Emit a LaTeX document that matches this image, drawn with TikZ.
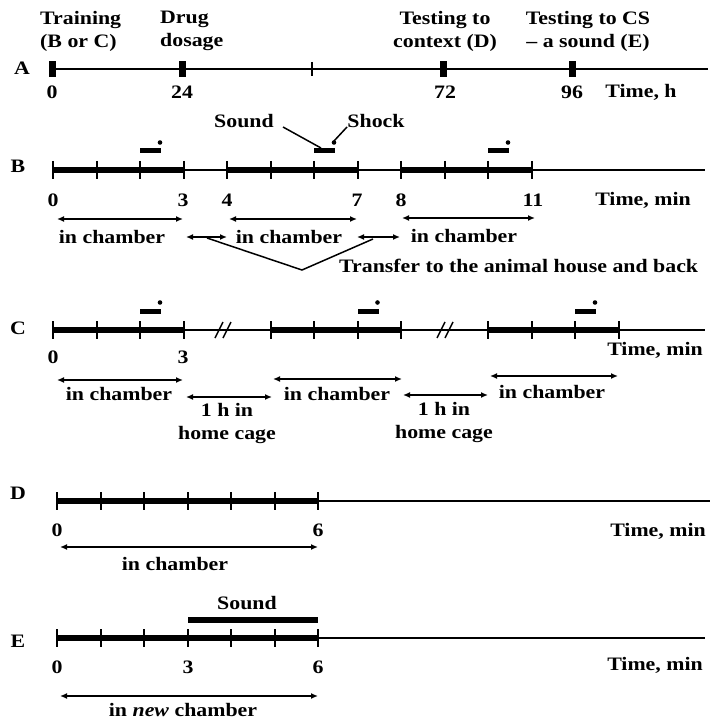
\documentclass[tikz,border=0pt]{standalone}
\usepackage{fontspec}
\setmainfont{Liberation Serif}[FakeStretch=1.15]
\usetikzlibrary{arrows.meta}
\begin{document}
\begin{tikzpicture}[x=1pt,y=-1pt,
  lbl/.style={font=\fontsize{19}{23}\selectfont\bfseries, inner sep=0pt},
  thinln/.style={line width=1.8pt},
  thickln/.style={line width=5.5pt},
  tk/.style={line width=2pt},
  dbl/.style={line width=2.4pt,{Latex[length=7pt,width=6pt]}-{Latex[length=7pt,width=6pt]}},
  conn/.style={line width=1.5pt}
]
\fill[white] (0,0) rectangle (712,722);
\useasboundingbox (0,0) rectangle (712,722);

% ---------------- Row A ----------------
\node[lbl] (lA) at (22,68) {A};
\coordinate (aS) at (50,69);
\coordinate (aE) at (708,69);
\draw[thinln] (aS) -- (aE);
\foreach \x in {52,182,443,572} \fill (\x-3.5,61) rectangle (\x+3.5,77);
\draw[tk] (312,62) -- (312,76);
\node[lbl] (a0) at (52,92) {0};
\node[lbl] (a24) at (182,92) {24};
\node[lbl] (a72) at (445,92) {72};
\node[lbl] (a96) at (572,92) {96};
\node[lbl] (aTime) at (641,92) {Time, h};
\node[lbl,align=left,anchor=west] (tTrain) at (40,31) {Training\\(B or C)};
\node[lbl,align=left,anchor=west] (tDrug) at (160,31) {Drug\\dosage};
\node[lbl,align=center] (tCtx) at (445,31) {Testing to\\context (D)};
\node[lbl,align=center] (tCS) at (588,31) {Testing to CS\\– a sound (E)};

% ---------------- Row B ----------------
\node[lbl] (lB) at (18,166) {B};
\draw[thinln] (53,170) -- (705,170);
\foreach \a in {0,4,8} \draw[thickln] ({53+43.5*\a},170) -- ({53+43.5*(\a+3)},170);
\foreach \t in {0,...,11} \draw[tk] ({53+43.5*\t},161) -- ++(0,18);
\foreach \a in {2,6,10} {
  \fill ({53+43.5*\a},148.5) rectangle ++(21,5);
  \fill ({53+43.5*\a+20},142.5) circle (2.3);
}
\node[lbl] (snd) at (244,121) {Sound};
\node[lbl] (shk) at (376,121) {Shock};
\coordinate (sndS) at (283,127);
\coordinate (sndE) at (321,148);
\coordinate (shkS) at (347,127);
\coordinate (shkE) at (334,141);
\draw[conn] (sndS) -- (sndE);
\draw[conn] (shkS) -- (shkE);
\node[lbl] (b0) at (53,200) {0};
\node[lbl] (b3) at (183,200) {3};
\node[lbl] (b4) at (227,200) {4};
\node[lbl] (b7) at (357,200) {7};
\node[lbl] (b8) at (401,200) {8};
\node[lbl] (b11) at (533,200) {11};
\node[lbl] (bTime) at (643,200) {Time, min};
\coordinate (bc1a) at (57,219);  \coordinate (bc1b) at (183,219);
\coordinate (bc2a) at (229,219); \coordinate (bc2b) at (357,219);
\coordinate (bc3a) at (402,218); \coordinate (bc3b) at (535,218);
\draw[dbl] (bc1a) -- (bc1b);
\draw[dbl] (bc2a) -- (bc2b);
\draw[dbl] (bc3a) -- (bc3b);
\node[lbl] (bch1) at (112,237) {in chamber};
\node[lbl] (bch2) at (289,237) {in chamber};
\node[lbl] (bch3) at (464,236) {in chamber};
\coordinate (tr1a) at (186,237); \coordinate (tr1b) at (227,237);
\coordinate (tr2a) at (357,237); \coordinate (tr2b) at (400,237);
\draw[dbl] (tr1a) -- (tr1b);
\draw[dbl] (tr2a) -- (tr2b);
\coordinate (tr1m) at (207,238);
\coordinate (tr2m) at (373,239);
\coordinate (apex) at (302,270);
\draw[conn] (tr1m) -- (apex) -- (tr2m);
\node[lbl,anchor=west] (trans) at (339,266) {Transfer to the animal house and back};

% ---------------- Row C ----------------
\def\cy{330}
\node[lbl] (lC) at (18,\cy-2) {C};
\draw[thinln] (53,\cy) -- (705,\cy);
\foreach \a in {0,5,10} \draw[thickln] ({53+43.5*\a},\cy) -- ({53+43.5*(\a+3)},\cy);
\foreach \t in {0,1,2,3,5,6,7,8,10,11,12,13} \draw[tk] ({53+43.5*\t},\cy-9) -- ++(0,18);
\foreach \a in {2,7,12} {
  \fill ({53+43.5*\a},\cy-21.5) rectangle ++(21,5);
  \fill ({53+43.5*\a+20},\cy-27.5) circle (2.3);
}
\foreach \x in {222,444} {
  \draw[conn] (\x-7,\cy+8) -- (\x+1,\cy-8);
  \draw[conn] (\x+1,\cy+8) -- (\x+9,\cy-8);
}
\node[lbl] (c0) at (53,357) {0};
\node[lbl] (c3) at (183,357) {3};
\node[lbl] (cTime) at (655,350) {Time, min};
\coordinate (cc1a) at (57,380);  \coordinate (cc1b) at (183,380);
\coordinate (cc2a) at (273,379); \coordinate (cc2b) at (402,379);
\coordinate (cc3a) at (490,376); \coordinate (cc3b) at (618,376);
\draw[dbl] (cc1a) -- (cc1b);
\draw[dbl] (cc2a) -- (cc2b);
\draw[dbl] (cc3a) -- (cc3b);
\node[lbl] (cch1) at (119,394) {in chamber};
\node[lbl] (cch2) at (337,394) {in chamber};
\node[lbl] (cch3) at (552,392) {in chamber};
\coordinate (ch1a) at (186,397); \coordinate (ch1b) at (272,397);
\coordinate (ch2a) at (403,395); \coordinate (ch2b) at (488,395);
\draw[dbl] (ch1a) -- (ch1b);
\draw[dbl] (ch2a) -- (ch2b);
\node[lbl,align=center] (home1) at (227,424) {1 h in\\home cage};
\node[lbl,align=center] (home2) at (444,423) {1 h in\\home cage};

% ---------------- Row D ----------------
\node[lbl] (lD) at (18,493) {D};
\draw[thinln] (57,501) -- (710,501);
\draw[thickln] (57,501) -- (318,501);
\foreach \t in {0,...,6} \draw[tk] ({57+43.5*\t},492) -- ++(0,18);
\node[lbl] (d0) at (57,530) {0};
\node[lbl] (d6) at (318,530) {6};
\node[lbl] (dTime) at (658,531) {Time, min};
\coordinate (dca) at (60,547); \coordinate (dcb) at (318,547);
\draw[dbl] (dca) -- (dcb);
\node[lbl] (dch) at (175,564) {in chamber};

% ---------------- Row E ----------------
\node[lbl] (lE) at (18,641) {E};
\draw[thinln] (57,638) -- (705,638);
\draw[thickln] (57,638) -- (318,638);
\foreach \t in {0,...,6} \draw[tk] ({57+43.5*\t},629) -- ++(0,18);
\fill (188,617) rectangle (318,623);
\node[lbl] (esnd) at (247,603) {Sound};
\node[lbl] (e0) at (57,667) {0};
\node[lbl] (e3) at (188,667) {3};
\node[lbl] (e6) at (318,667) {6};
\node[lbl] (eTime) at (655,665) {Time, min};
\coordinate (eca) at (60,696); \coordinate (ecb) at (318,696);
\draw[dbl] (eca) -- (ecb);
\node[lbl] (ech) at (183,710) {in \textit{new} chamber};
\end{tikzpicture}
\end{document}
